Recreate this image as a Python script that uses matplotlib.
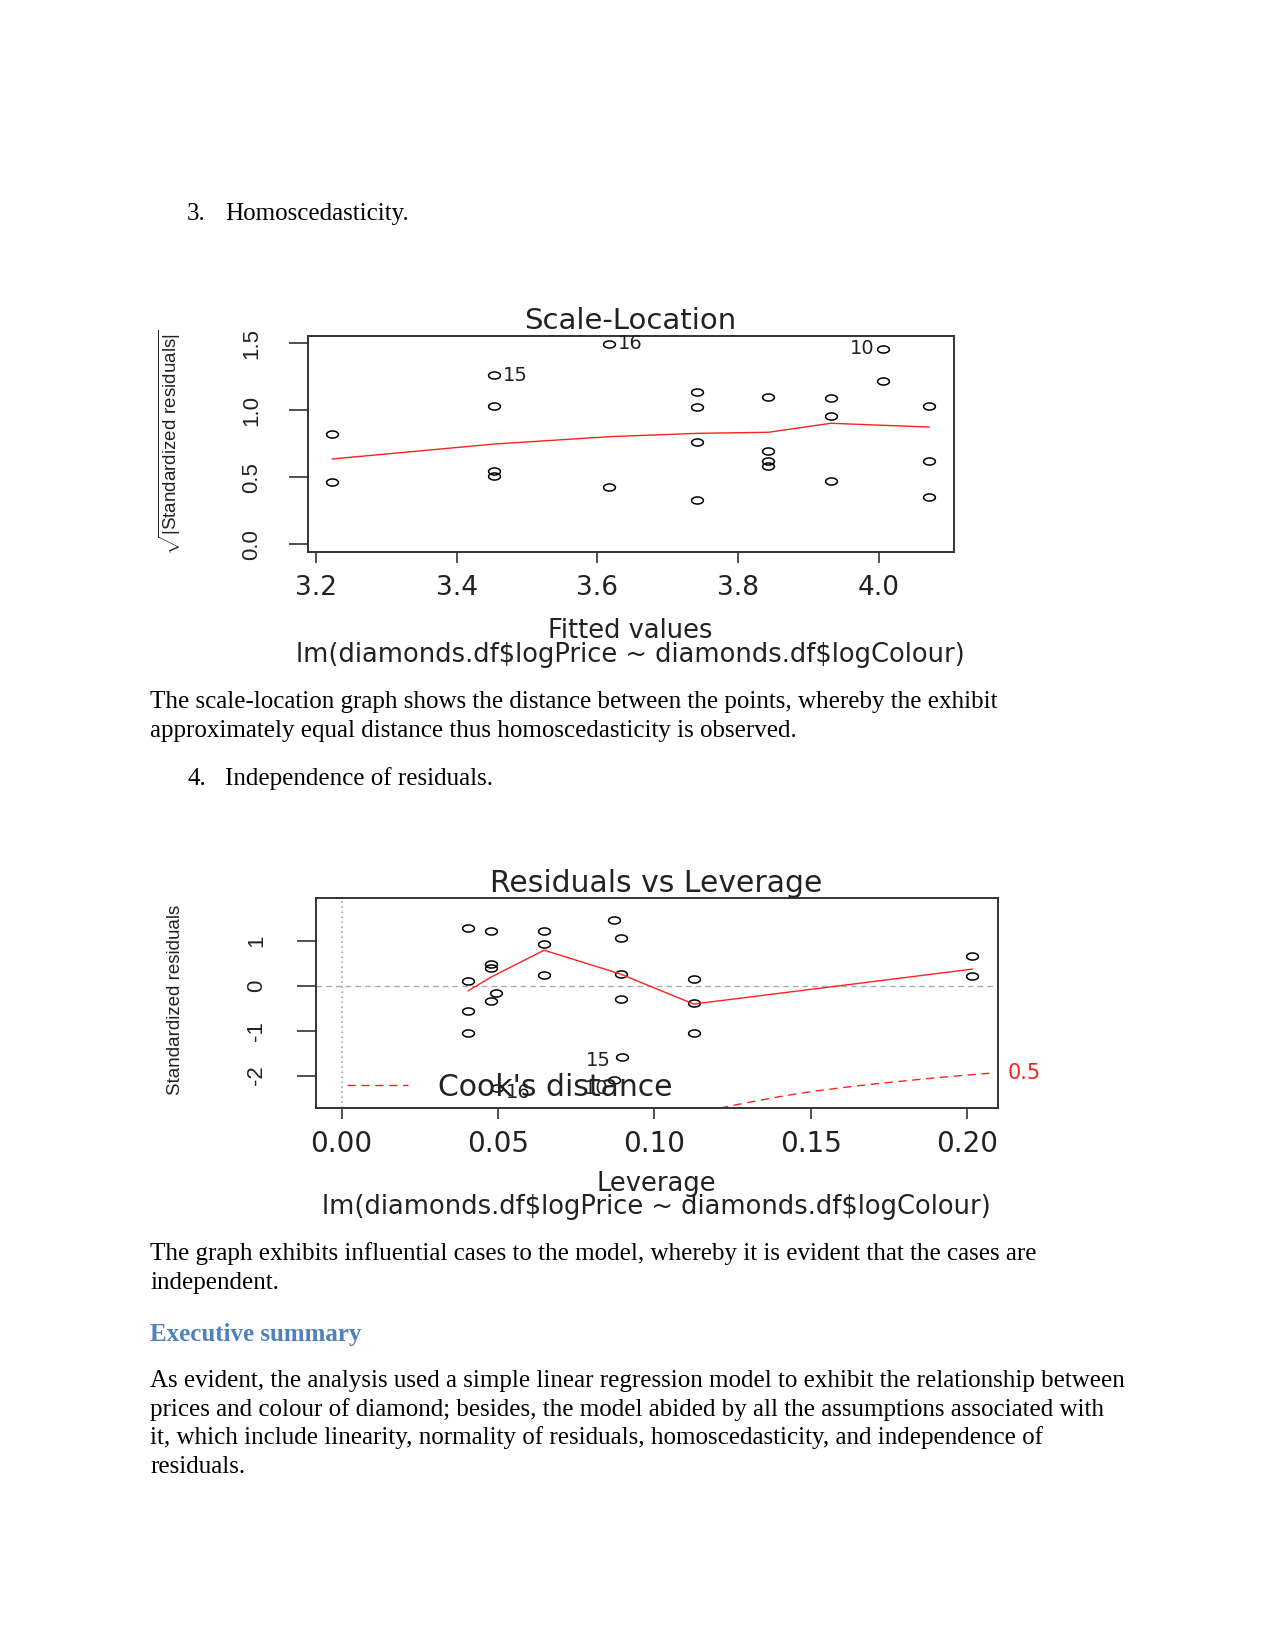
import matplotlib
matplotlib.use("Agg")
import numpy as np
import matplotlib.pyplot as plt
from matplotlib.path import Path
from matplotlib.lines import Line2D

# Page size in pixels (figure is drawn at 100 dpi).
W = 1275
H = 1651

# Scale-Location data.
sl_fitted = [3.2236, 3.2236, 3.4533, 3.4533, 3.4533, 3.4533, 3.6166, 3.6166,
             3.742, 3.742, 3.742, 3.742, 3.843, 3.843, 3.843, 3.843,
             3.9315, 3.9315, 3.9315, 4.0054, 4.0054, 4.0712, 4.0712, 4.0712]
sl_sqrt_res = [0.821, 0.465, 1.261, 1.032, 0.51, 0.55, 1.495, 0.428,
               1.137, 1.022, 0.761, 0.333, 1.102, 0.699, 0.622, 0.587,
               1.092, 0.960, 0.472, 1.460, 1.216, 1.032, 0.619, 0.351]
sl_label_idx = [2, 6, 19]
sl_label_txt = ["15", "16", "10"]
sl_smooth_x = [3.2236, 3.4533, 3.6166, 3.742, 3.843, 3.9315, 4.0054, 4.0712]
sl_smooth_y = [0.637, 0.748, 0.803, 0.828, 0.836, 0.903, 0.888, 0.875]
sl_xticks = [3.2, 3.4, 3.6, 3.8, 4.0]
sl_yticks = [0.0, 0.5, 1.0, 1.5]

# Residuals vs Leverage data.
rl_leverage = [0.0405, 0.0405, 0.0405, 0.0405,
               0.0476, 0.0476, 0.0476, 0.0493, 0.0476, 0.0495,
               0.0647, 0.0647, 0.0647,
               0.0870, 0.0892, 0.0892, 0.0892, 0.0895, 0.0871,
               0.1125, 0.1125, 0.1125,
               0.2016, 0.2016]
rl_std_res = [1.298, 0.111, -0.565, -1.058,
              1.216, 0.49, 0.40, -0.169, -0.34, -2.28,
              1.216, 0.941, 0.231,
              1.475, 1.072, 0.268, -0.289, -1.578, -2.096,
              0.142, -0.391, -1.051,
              0.667, 0.216]
rl_label_idx = [17, 9, 18]
rl_label_txt = ["15", "16", "10"]
rl_smooth_x = [0.0405, 0.0476, 0.0647, 0.0892, 0.1125, 0.2016]
rl_smooth_y = [-0.111, 0.187, 0.793, 0.26, -0.407, 0.371]
cook_lev = [0.1209, 0.13, 0.14, 0.15, 0.16, 0.17, 0.18, 0.19, 0.20, 0.207]
cook_res = [-2.724, -2.60, -2.47, -2.36, -2.27, -2.19, -2.12, -2.05, -1.99, -1.95]
rl_xticks = [0.00, 0.05, 0.10, 0.15, 0.20]
rl_xticklabels = ["0.00", "0.05", "0.10", "0.15", "0.20"]
rl_yticks = [-2, -1, 0, 1]

formula = r"lm(diamonds.df\$logPrice ~ diamonds.df\$logColour)"

SERIF = ["Liberation Serif", "DejaVu Serif"]
NARROW = ["Liberation Sans", "DejaVu Sans"]
SANS = ["DejaVu Sans"]
INK = "#222222"
RED = "#ff2020"

plt.rcParams["mathtext.fontset"] = "custom"
plt.rcParams["mathtext.rm"] = "Liberation Sans"

# R draws open circles; the pasted plot is stretched sideways, so use a wide ellipse.
t = np.linspace(0, 2 * np.pi, 41)
ellipse = Path(np.column_stack([np.cos(t), 0.6 * np.sin(t)]), closed=True)


def px_axes(fig, left, top, right, bottom):
    return fig.add_axes([left / W, 1 - bottom / H, (right - left) / W, (bottom - top) / H])


def page_text(fig, x, y, s, **kw):
    kw.setdefault("family", SERIF)
    kw.setdefault("fontsize", 18)
    kw.setdefault("va", "center")
    kw.setdefault("color", "black")
    fig.text(x / W, 1 - y / H, s, **kw)


def style_axes(ax, xticks, yticks, xlabels, ylabels, xsize, xpad, ypad):
    for sp in ax.spines.values():
        sp.set_linewidth(1.4)
        sp.set_color("#333333")
    ax.set_xticks(xticks)
    ax.set_xticklabels(xlabels)
    ax.set_yticks(yticks)
    ax.set_yticklabels(ylabels)
    ax.tick_params(axis="x", length=8, width=1.2, color="#333333", pad=xpad,
                   labelsize=xsize, labelcolor=INK)
    ax.tick_params(axis="y", length=14, width=1.2, color="#333333", pad=ypad,
                   labelsize=16, labelcolor=INK, labelrotation=90)
    for lbl in ax.get_xticklabels():
        lbl.set_fontfamily(SANS)
    for lbl in ax.get_yticklabels():
        lbl.set_fontfamily(NARROW)
        lbl.set_va("center")


fig = plt.figure(figsize=(W / 100, H / 100), dpi=100)

# ---- document text ----
page_text(fig, 187, 214, "3.")
page_text(fig, 225, 214, "Homoscedasticity.")
page_text(fig, 150, 702, "The scale-location graph shows the distance between the points, whereby the exhibit")
page_text(fig, 150, 731, "approximately equal distance thus homoscedasticity is observed.")
page_text(fig, 187, 779, "4.")
page_text(fig, 225, 779, "Independence of residuals.")
page_text(fig, 150, 1254, "The graph exhibits influential cases to the model, whereby it is evident that the cases are")
page_text(fig, 150, 1283, "independent.")
page_text(fig, 150, 1334, "Executive summary", color="#4F81BD", fontweight="bold")
page_text(fig, 150, 1381, "As evident, the analysis used a simple linear regression model to exhibit the relationship between")
page_text(fig, 150, 1410, "prices and colour of diamond; besides, the model abided by all the assumptions associated with")
page_text(fig, 150, 1438, "it, which include linearity, normality of residuals, homoscedasticity, and independence of")
page_text(fig, 150, 1467, "residuals.")

# ---- Scale-Location ----
ax1 = px_axes(fig, 308, 336, 954, 552)
ax1.set_xlim(3.189, 4.1065)
ax1.set_ylim(-0.057, 1.554)
ax1.plot(sl_fitted, sl_sqrt_res, linestyle="none", marker=ellipse, markersize=8.5,
         markerfacecolor="none", markeredgecolor="black", markeredgewidth=1.1)
ax1.plot(sl_smooth_x, sl_smooth_y, color=RED, linewidth=1.0)
for i, lab in zip(sl_label_idx, sl_label_txt):
    right = lab != "10"
    ax1.annotate(lab, (sl_fitted[i], sl_sqrt_res[i]), xytext=(6 if right else -6, 0),
                 textcoords="offset points", ha="left" if right else "right",
                 va="center", fontsize=14, color=INK, family=SANS)
style_axes(ax1, sl_xticks, sl_yticks, ["3.2", "3.4", "3.6", "3.8", "4.0"],
           ["0.0", "0.5", "1.0", "1.5"], 19, 8.5, 19)
page_text(fig, 630, 321, "Scale-Location", family=SANS, fontsize=21, color=INK, ha="center")
page_text(fig, 630, 631, "Fitted values", family=SANS, fontsize=18.5, color=INK, ha="center")
page_text(fig, 630, 655, formula, family=SANS, fontsize=18.5, color=INK, ha="center")
page_text(fig, 170, 442, r"$\sqrt{|\mathrm{Standardized\ residuals}|}$",
          fontsize=13.5, color=INK, ha="center", rotation=90)

# ---- Residuals vs Leverage ----
ax2 = px_axes(fig, 316, 898, 998, 1108)
ax2.set_xlim(-0.0082, 0.2098)
ax2.set_ylim(-2.724, 1.956)
ax2.axhline(0, color="#aaaaaa", linewidth=1.0, linestyle=(0, (4, 3)))
ax2.axvline(0, color="#aaaaaa", linewidth=1.2, linestyle=(0, (1, 2)))
ax2.plot(rl_leverage, rl_std_res, linestyle="none", marker=ellipse, markersize=8.5,
         markerfacecolor="none", markeredgecolor="black", markeredgewidth=1.1)
ax2.plot(rl_smooth_x, rl_smooth_y, color=RED, linewidth=1.0)
ax2.plot(cook_lev, cook_res, color=RED, linewidth=1.0, linestyle=(0, (6, 4)))
ax2.annotate("0.5", (cook_lev[-1], cook_res[-1]), xytext=(13, 0), textcoords="offset points",
             ha="left", va="center", fontsize=15, color=RED, family=SANS,
             annotation_clip=False)
offsets = {"15": (-8, -3, "right"), "16": (7, -3, "left"), "10": (-4, -6, "right")}
for i, lab in zip(rl_label_idx, rl_label_txt):
    dx, dy, ha = offsets[lab]
    ax2.annotate(lab, (rl_leverage[i], rl_std_res[i]), xytext=(dx, dy),
                 textcoords="offset points", ha=ha, va="center", fontsize=14,
                 color=INK, family=SANS)
leg = ax2.legend(handles=[Line2D([], [], color=RED, linewidth=1.0, linestyle=(0, (6, 4)))],
                 labels=["Cook's distance"], loc="center left", bbox_to_anchor=(0.045, 0.1),
                 frameon=False, handlelength=2.05, handletextpad=1.0, borderpad=0,
                 borderaxespad=0, prop={"family": SANS, "size": 21.5})
for txt in leg.get_texts():
    txt.set_color(INK)
style_axes(ax2, rl_xticks, rl_yticks, rl_xticklabels, [str(v) for v in rl_yticks], 20, 7.5, 21)
page_text(fig, 656, 883, "Residuals vs Leverage", family=SANS, fontsize=21.5, color=INK, ha="center")
page_text(fig, 656, 1184, "Leverage", family=SANS, fontsize=18.5, color=INK, ha="center")
page_text(fig, 656, 1207, formula, family=SANS, fontsize=18.5, color=INK, ha="center")
page_text(fig, 175, 1000, "Standardized residuals", family=NARROW, fontsize=13.5, color=INK,
          ha="center", rotation=90)

fig.savefig("out.png", dpi=100, facecolor="white")
